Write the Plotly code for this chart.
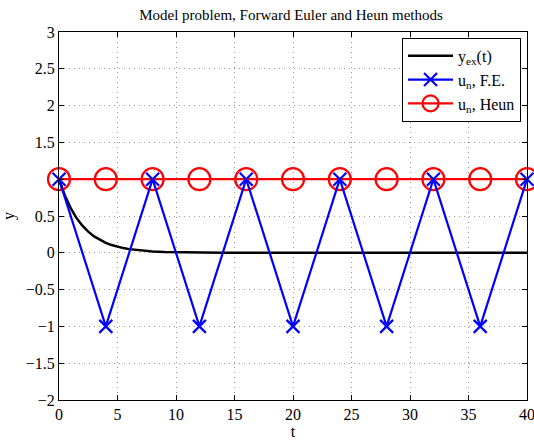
import plotly.graph_objects as go

# Exact solution y_ex(t) sampled along t
t_exact = [0, 0.5, 1, 1.5, 2, 2.5, 3, 3.5, 4, 4.5, 5, 5.5, 6, 7, 8, 9, 10, 12, 14, 40]
y_exact = [1.0, 0.779, 0.607, 0.472, 0.368, 0.287, 0.223, 0.174, 0.135, 0.105,
           0.082, 0.064, 0.050, 0.030, 0.018, 0.011, 0.007, 0.002, 0.001, 0.0]

# Numerical solutions at step size h = 4
t_n = [0, 4, 8, 12, 16, 20, 24, 28, 32, 36, 40]
u_fe = [1, -1, 1, -1, 1, -1, 1, -1, 1, -1, 1]
u_heun = [1, 1, 1, 1, 1, 1, 1, 1, 1, 1, 1]

y_ticks = [-2, -1.5, -1, -0.5, 0, 0.5, 1, 1.5, 2, 2.5, 3]
y_ticktext = ["\u22122", "\u22121.5", "\u22121", "\u22120.5", "0", "0.5", "", "1.5", "2", "2.5", "3"]
x_ticks = [0, 5, 10, 15, 20, 25, 30, 35, 40]
x_ticktext = [str(v) for v in x_ticks]

serif = "Liberation Serif"
num_font = dict(family=serif, size=16, color="black")

fig = go.Figure()
fig.add_trace(go.Scatter(
    x=t_exact, y=y_exact, mode="lines", name="y<sub>ex</sub>(t)",
    line=dict(color="black", width=2.5), legendrank=1,
))
fig.add_trace(go.Scatter(
    x=t_n, y=u_heun, mode="lines+markers", name="u<sub>n</sub>, Heun",
    line=dict(color="red", width=2.2),
    marker=dict(symbol="circle-open", size=22, color="red", line=dict(width=2.2, color="red")),
    legendrank=3, cliponaxis=False,
))
fig.add_trace(go.Scatter(
    x=t_n, y=u_fe, mode="lines+markers", name="u<sub>n</sub>, F.E.",
    line=dict(color="blue", width=2.2),
    marker=dict(symbol="x-thin-open", size=13, color="blue", line=dict(width=2.2, color="blue")),
    legendrank=2, cliponaxis=False,
))

axis_style = dict(
    showline=True, linecolor="black", linewidth=1, mirror="ticks",
    ticks="inside", ticklen=5, tickcolor="black", tickwidth=1,
    tickfont=num_font, ticklabeloverflow="allow",
    showgrid=True, gridcolor="#9a9a9a", griddash="1px,4px", gridwidth=1,
    zeroline=False,
)

fig.update_layout(
    template="none",
    width=534, height=441,
    margin=dict(l=59, r=7, t=32, b=41, pad=0),
    paper_bgcolor="white", plot_bgcolor="white",
    font=dict(family=serif, size=16, color="black"),
    title=dict(text="Model problem, Forward Euler and Heun methods",
               font=dict(family=serif, size=15, color="black"),
               x=0.545, xanchor="center", y=0.978, yanchor="top"),
    legend=dict(x=0.733, y=0.984, xanchor="left", yanchor="top",
                bgcolor="white", bordercolor="black", borderwidth=1,
                font=dict(family=serif, size=16, color="black"),
                itemwidth=45),
    showlegend=True,
    xaxis=dict(range=[0, 40], tickmode="array", tickvals=x_ticks, ticktext=x_ticktext,
               title=dict(text="t", font=dict(family=serif, size=16, color="black"), standoff=0),
               **axis_style),
    yaxis=dict(range=[-2, 3], tickmode="array", tickvals=y_ticks, ticktext=y_ticktext,
               title=dict(text="y", font=dict(family=serif, size=16, color="black"), standoff=8),
               **axis_style),
)

fig.write_html("out.html")
